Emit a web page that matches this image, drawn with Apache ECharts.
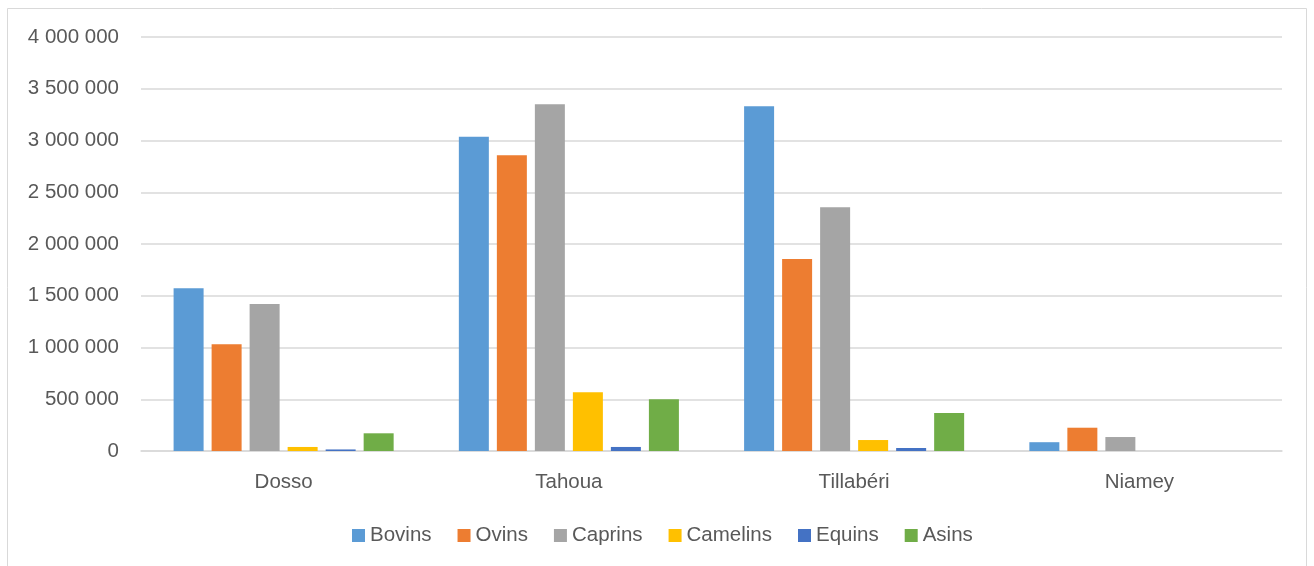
<!DOCTYPE html>
<html>
<head>
<meta charset="utf-8">
<script src="https://cdn.jsdelivr.net/npm/echarts@6/dist/echarts.min.js"></script>
<style>
  html, body { margin: 0; padding: 0; background: #fff; }
  #chart { width: 1314px; height: 566px; }
</style>
</head>
<body>
<div id="chart"></div>
<script>
// régions
const regions = ['Dosso', 'Tahoua', 'Tillabéri', 'Niamey'];

// effectifs par espèce
const bovins   = [1572000, 3037000, 3330000, 85000];
const ovins    = [1031000, 2857000, 1855000, 225000];
const caprins  = [1420000, 3350000, 2355000, 135000];
const camelins = [39000, 567000, 106000, 0];
const equins   = [15000, 39000, 29000, 0];
const asins    = [171000, 499000, 367000, 0];

const seriesNames = ['Bovins', 'Ovins', 'Caprins', 'Camelins', 'Equins', 'Asins'];
const seriesData = [bovins, ovins, caprins, camelins, equins, asins];
const colors = ['#5B9BD5', '#ED7D31', '#A5A5A5', '#FFC000', '#4472C4', '#70AD47'];

const font = 'Liberation Sans, Arial, sans-serif';
const fs = 20.5;

// 4000000 -> "4 000 000"
function fmt(v) {
  return String(v).replace(/\B(?=(\d{3})+(?!\d))/g, '\u00a0');
}

let chart = echarts.init(document.getElementById('chart'), null, { renderer: 'canvas' });

let option = {
  animation: false,
  backgroundColor: '#fff',
  color: colors,
  textStyle: { fontFamily: font },
  graphic: [{
    type: 'rect',
    shape: { x: 7.5, y: 8.5, width: 1299, height: 570 },
    style: { fill: 'none', stroke: '#d9d9d9', lineWidth: 1 },
    silent: true
  }],
  grid: { left: 141, right: 32, top: 37, bottom: 115 },
  legend: {
    data: seriesNames,
    left: 352,
    top: 525,
    padding: 0,
    icon: 'rect',
    itemWidth: 13,
    itemHeight: 13,
    itemGap: 26,
    textStyle: { fontSize: fs, color: '#595959', fontFamily: font }
  },
  xAxis: {
    type: 'category',
    data: regions,
    axisLine: { lineStyle: { color: '#d9d9d9', width: 1.5 } },
    axisTick: { show: false },
    axisLabel: { fontSize: fs, color: '#595959', margin: 21, fontFamily: font }
  },
  yAxis: {
    type: 'value',
    min: 0,
    max: 4000000,
    interval: 500000,
    axisLine: { show: false },
    axisTick: { show: false },
    splitLine: { lineStyle: { color: '#d9d9d9', width: 1.5 } },
    axisLabel: { fontSize: fs, color: '#595959', margin: 22, fontFamily: font, formatter: fmt }
  },
  series: seriesNames.map((name, i) => ({
    name: name,
    type: 'bar',
    data: seriesData[i],
    barWidth: 30,
    barGap: '26.7%',
    itemStyle: { color: colors[i] }
  }))
};

chart.setOption(option);
</script>
</body>
</html>
